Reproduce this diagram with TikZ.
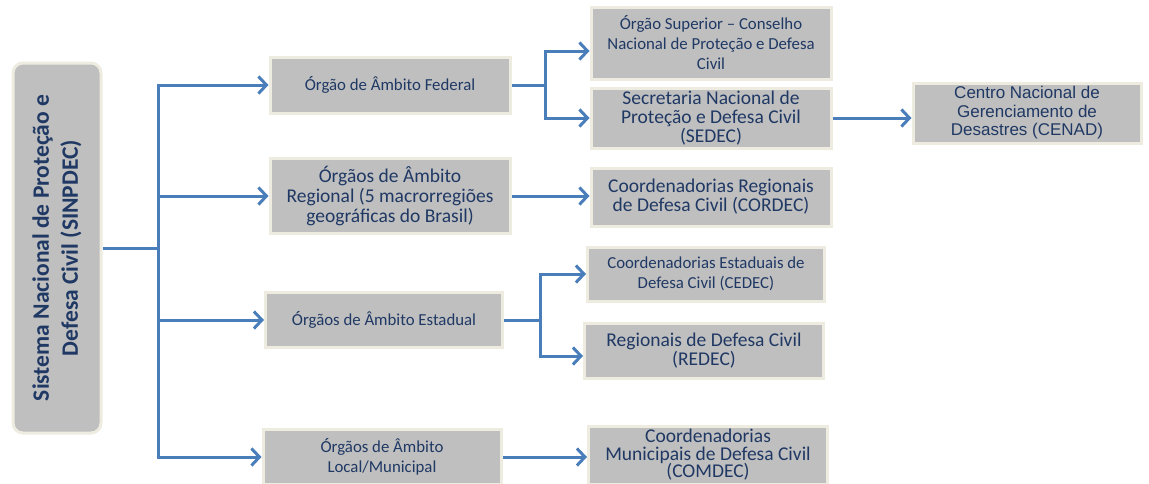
\documentclass[tikz,border=0pt]{standalone}
\usepackage{fontspec}
\setmainfont{Carlito}
\newfontfamily\cenadfont{Liberation Sans}
\usetikzlibrary{arrows.meta}
\definecolor{boxgray}{RGB}{191,191,191}
\definecolor{boxrim}{RGB}{238,236,225}
\definecolor{boxtext}{RGB}{31,56,100}
\definecolor{linkblue}{RGB}{74,126,187}

\begin{document}
\begin{tikzpicture}[x=1pt,y=-1pt,
    orgbox/.style={draw=boxrim,fill=boxgray,line width=3pt,text=boxtext,align=center,inner sep=2pt},
    small/.style={font=\fontsize{16.8}{20}\selectfont},
    large/.style={font=\fontsize{19.5}{19}\selectfont},
    wire/.style={color=linkblue,line width=3pt},
    link/.style={wire,-{Straight Barb[length=8pt,width=17pt]}},
    elbow/.style={to path={|- (\tikztotarget)}}]
  \useasboundingbox (0,0) rectangle (1149,483);
  \node[orgbox,rounded corners=10pt,minimum width=88pt,minimum height=370pt] (sinpdec) at (57,248)
    {\rotatebox{90}{\parbox{350pt}{\centering\fontsize{23.5}{29}\selectfont\bfseries Sistema Nacional de Proteção e\\Defesa Civil (SINPDEC)}}};
  \node[orgbox,small,minimum width=240pt,minimum height=56pt] (federal) at (390,85) {Órgão de Âmbito Federal};
  \node[orgbox,small,minimum width=240pt,minimum height=72pt] (conselho) at (711,43)
    {Órgão Superior -- Conselho\\Nacional de Proteção e Defesa\\Civil};
  \node[orgbox,large,minimum width=240pt,minimum height=60pt] (sedec) at (711,118)
    {Secretaria Nacional de\\Proteção e Defesa Civil\\(SEDEC)};
  \node[orgbox,minimum width=228pt,minimum height=60pt,font=\cenadfont\fontsize{17}{18.5}\selectfont] (cenad) at (1027,113)
    {Centro Nacional de\\Gerenciamento de\\Desastres (CENAD)};
  \node[orgbox,large,minimum width=240pt,minimum height=75pt,font=\fontsize{19.5}{20}\selectfont] (regional) at (390,196)
    {Órgãos de Âmbito\\Regional (5 macrorregiões\\geográficas do Brasil)};
  \node[orgbox,large,minimum width=240pt,minimum height=58pt] (cordec) at (711,197)
    {Coordenadorias Regionais\\de Defesa Civil (CORDEC)};
  \node[orgbox,small,minimum width=237pt,minimum height=55pt] (estadual) at (384,320) {Órgãos de Âmbito Estadual};
  \node[orgbox,small,minimum width=237pt,minimum height=54pt] (cedec) at (706,274)
    {Coordenadorias Estaduais de\\Defesa Civil (CEDEC)};
  \node[orgbox,large,minimum width=239pt,minimum height=55pt] (redec) at (704,351)
    {Regionais de Defesa Civil\\(REDEC)};
  \node[orgbox,small,minimum width=238pt,minimum height=55pt] (local) at (382,457)
    {Órgãos de Âmbito\\Local/Municipal};
  \node[orgbox,minimum width=239pt,minimum height=58pt,font=\fontsize{19.5}{17.5}\selectfont] (comdec) at (708,455)
    {Coordenadorias\\Municipais de Defesa Civil\\(COMDEC)};
  \coordinate (trunk) at (158,248);
  \coordinate (fedsplit) at (545,85);
  \coordinate (estsplit) at (540,320);
  \path[wire]
    (sinpdec.east) edge (trunk)
    (federal.east) edge (fedsplit)
    (estadual.east) edge (estsplit);
  \path[link]
    (trunk) edge[elbow] (federal)
    (trunk) edge[elbow] (regional)
    (trunk) edge[elbow] (estadual)
    (trunk) edge[elbow] (local)
    (fedsplit) edge[elbow] ([yshift=-8pt]conselho.west)
    (fedsplit) edge[elbow] (sedec)
    (sedec) edge (cenad.west |- sedec)
    (regional) edge (cordec.west |- regional)
    (estsplit) edge[elbow] (cedec)
    (estsplit) edge[elbow] ([yshift=-5pt]redec.west)
    (local) edge (comdec.west |- local);
\end{tikzpicture}
\end{document}
